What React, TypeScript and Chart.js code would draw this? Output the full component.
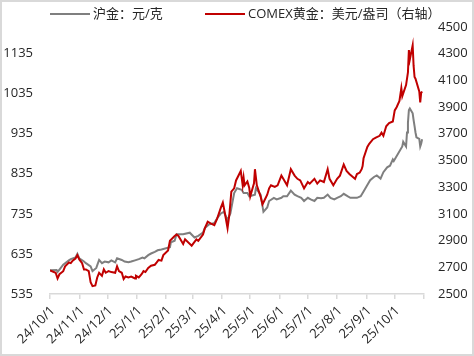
import React, { useEffect, useRef } from 'react';
import { Chart, registerables } from 'chart.js';

Chart.register(...registerables);

// ---- Data ----
const seriesNames = ['沪金：元/克', 'COMEX黄金：美元/盎司（右轴）'];

const shfeDates = [
  '2024-10-01', '2024-10-08', '2024-10-09', '2024-10-11', '2024-10-15', '2024-10-21', '2024-10-23', '2024-10-28', '2024-10-30',
  '2024-11-01', '2024-11-06', '2024-11-08', '2024-11-13', '2024-11-15', '2024-11-19', '2024-11-22', '2024-11-25', '2024-11-28',
  '2024-12-02', '2024-12-05', '2024-12-09', '2024-12-11', '2024-12-16', '2024-12-19', '2024-12-23', '2024-12-26', '2024-12-30',
  '2025-01-03', '2025-01-07', '2025-01-09', '2025-01-13', '2025-01-16', '2025-01-20', '2025-01-23', '2025-01-27',
  '2025-02-05', '2025-02-06', '2025-02-10', '2025-02-12', '2025-02-19', '2025-02-26',
  '2025-03-03', '2025-03-07', '2025-03-12', '2025-03-14', '2025-03-18', '2025-03-24', '2025-03-27', '2025-03-31',
  '2025-04-03', '2025-04-07', '2025-04-10', '2025-04-14', '2025-04-17', '2025-04-22', '2025-04-24', '2025-04-28', '2025-04-30',
  '2025-05-06', '2025-05-07', '2025-05-12', '2025-05-15', '2025-05-19', '2025-05-21', '2025-05-26', '2025-05-29',
  '2025-06-03', '2025-06-05', '2025-06-09', '2025-06-13', '2025-06-17', '2025-06-20', '2025-06-24', '2025-06-27',
  '2025-07-01', '2025-07-04', '2025-07-08', '2025-07-11', '2025-07-15', '2025-07-18', '2025-07-22', '2025-07-25', '2025-07-29',
  '2025-08-01', '2025-08-05', '2025-08-08', '2025-08-12', '2025-08-15', '2025-08-19', '2025-08-22', '2025-08-26', '2025-08-29',
  '2025-09-02', '2025-09-05', '2025-09-09', '2025-09-12', '2025-09-16', '2025-09-19', '2025-09-23', '2025-09-26', '2025-09-29', '2025-09-30',
  '2025-10-09', '2025-10-10', '2025-10-13', '2025-10-14', '2025-10-15', '2025-10-16', '2025-10-17', '2025-10-20', '2025-10-21',
  '2025-10-22', '2025-10-23', '2025-10-24', '2025-10-27', '2025-10-28', '2025-10-29', '2025-10-30',
];
const shfeValues = [
  594, 595, 590, 596, 608, 619, 622, 626, 635,
  624, 616, 612, 604, 592, 600, 620, 612, 616,
  614, 619, 614, 624, 620, 616, 614, 616, 619,
  622, 626, 624, 632, 636, 640, 644, 646,
  652, 664, 668, 684, 684, 688,
  676, 680, 688, 700, 708, 712, 724, 736,
  740, 720, 736, 787, 799, 795, 787, 787, 779,
  783, 799, 783, 740, 751, 767, 775, 771,
  775, 779, 779, 793, 783, 779, 775, 767,
  775, 771, 767, 775, 774, 775, 783, 775, 771,
  775, 779, 785, 779, 775, 775, 775, 779, 791,
  807, 819, 827, 831, 823, 839, 851, 855, 871, 867,
  903, 915, 903, 938, 962, 994, 998, 986, 969,
  954, 938, 926, 922, 903, 910, 921,
];

const comexDates = [
  '2024-10-01', '2024-10-07', '2024-10-09', '2024-10-11', '2024-10-15', '2024-10-17', '2024-10-21', '2024-10-23', '2024-10-25', '2024-10-28', '2024-10-30',
  '2024-11-01', '2024-11-04', '2024-11-06', '2024-11-08', '2024-11-11', '2024-11-13', '2024-11-15', '2024-11-18', '2024-11-20', '2024-11-22', '2024-11-25', '2024-11-27', '2024-11-29',
  '2024-12-02', '2024-12-05', '2024-12-09', '2024-12-11', '2024-12-13', '2024-12-16', '2024-12-18', '2024-12-20', '2024-12-23', '2024-12-26', '2024-12-30', '2024-12-31',
  '2025-01-03', '2025-01-06', '2025-01-08', '2025-01-10', '2025-01-13', '2025-01-16', '2025-01-20', '2025-01-22', '2025-01-24', '2025-01-27', '2025-01-29',
  '2025-02-03', '2025-02-05', '2025-02-10', '2025-02-12', '2025-02-14', '2025-02-19', '2025-02-21', '2025-02-28',
  '2025-03-05', '2025-03-07', '2025-03-12', '2025-03-14', '2025-03-17', '2025-03-20', '2025-03-24', '2025-03-27', '2025-03-31',
  '2025-04-02', '2025-04-04', '2025-04-07', '2025-04-09', '2025-04-11', '2025-04-14', '2025-04-16', '2025-04-21', '2025-04-23', '2025-04-24', '2025-04-25', '2025-04-28', '2025-04-30',
  '2025-05-01', '2025-05-05', '2025-05-06', '2025-05-08', '2025-05-12', '2025-05-14', '2025-05-16', '2025-05-19', '2025-05-21', '2025-05-23', '2025-05-27', '2025-05-30',
  '2025-06-03', '2025-06-05', '2025-06-09', '2025-06-13', '2025-06-17', '2025-06-20', '2025-06-23', '2025-06-27',
  '2025-07-01', '2025-07-03', '2025-07-08', '2025-07-11', '2025-07-14', '2025-07-18', '2025-07-22', '2025-07-24', '2025-07-28',
  '2025-08-01', '2025-08-04', '2025-08-08', '2025-08-11', '2025-08-14', '2025-08-18', '2025-08-20', '2025-08-22', '2025-08-25', '2025-08-27', '2025-08-28', '2025-08-29',
  '2025-09-02', '2025-09-04', '2025-09-08', '2025-09-11', '2025-09-15', '2025-09-17', '2025-09-19', '2025-09-22', '2025-09-25', '2025-09-29',
  '2025-10-01', '2025-10-03', '2025-10-06', '2025-10-08', '2025-10-09', '2025-10-13', '2025-10-15', '2025-10-16', '2025-10-17', '2025-10-20',
  '2025-10-21', '2025-10-22', '2025-10-23', '2025-10-27', '2025-10-28', '2025-10-29', '2025-10-30',
];
const comexValues = [
  2676, 2659, 2616, 2648, 2671, 2707, 2736, 2731, 2750, 2766, 2791,
  2759, 2731, 2684, 2684, 2671, 2588, 2559, 2564, 2624, 2659, 2636, 2684, 2659,
  2671, 2664, 2659, 2707, 2671, 2659, 2612, 2631, 2624, 2631, 2616, 2636,
  2624, 2648, 2671, 2664, 2695, 2712, 2719, 2736, 2755, 2750, 2791,
  2826, 2898, 2934, 2945, 2934, 2874, 2909, 2862,
  2909, 2898, 2945, 2993, 3041, 3029, 3016, 3064, 3148,
  3184, 3112, 2993, 3100, 3266, 3291, 3350, 3421, 3314, 3371, 3314, 3343, 3293,
  3231, 3329, 3434, 3314, 3229, 3171, 3200, 3243, 3291, 3314, 3302, 3314,
  3386, 3362, 3314, 3434, 3386, 3362, 3350, 3291,
  3338, 3326, 3362, 3326, 3350, 3338, 3434, 3362, 3314,
  3362, 3386, 3469, 3421, 3398, 3374, 3362, 3398, 3409, 3434, 3457, 3516,
  3600, 3624, 3659, 3671, 3684, 3707, 3684, 3755, 3779, 3791,
  3874, 3898, 3945, 4041, 3981, 4064, 4159, 4326, 4255, 4362,
  4207, 4124, 4112, 4016, 3934, 4005, 4016,
];

const leftTicks = [535, 635, 735, 835, 935, 1035, 1135];
const rightTicks = [2500, 2700, 2900, 3100, 3300, 3500, 3700, 3900, 4100, 4300, 4500];
const monthTickDates = [
  '2024-10-01', '2024-11-01', '2024-12-01', '2025-01-01', '2025-02-01', '2025-03-01', '2025-04-01',
  '2025-05-01', '2025-06-01', '2025-07-01', '2025-08-01', '2025-09-01', '2025-10-01', '2025-11-01',
];
const monthTickLabels = [
  '24/10/1', '24/11/1', '24/12/1', '25/1/1', '25/2/1', '25/3/1', '25/4/1',
  '25/5/1', '25/6/1', '25/7/1', '25/8/1', '25/9/1', '25/10/1', '',
];

// ---- Helpers ----
const START = Date.UTC(2024, 9, 1);
const dayIndex = (s: string) => {
  const [y, m, d] = s.split('-').map(Number);
  return Math.round((Date.UTC(y, m - 1, d) - START) / 86400000);
};

const GRAY = '#7f7f7f';
const RED = '#c00000';
const TEXT = '#262626';
const AXIS = '#d9d9d9';
const FONT_FAMILY = '"Open Sans", "Noto Sans CJK SC", sans-serif';

const legendPlugin = {
  id: 'topLegend',
  afterDraw(chart: any) {
    const ctx = chart.ctx;
    const y = 12;
    const starts = [48, 203];
    ctx.save();
    ctx.font = `13px ${FONT_FAMILY}`;
    ctx.textBaseline = 'middle';
    ctx.textAlign = 'left';
    chart.data.datasets.forEach((ds: any) => {
      const x = starts[ds.legendIndex];
      ctx.strokeStyle = ds.borderColor;
      ctx.lineWidth = 2;
      ctx.beginPath();
      ctx.moveTo(x, y);
      ctx.lineTo(x + 40, y);
      ctx.stroke();
      ctx.fillStyle = TEXT;
      ctx.fillText(ds.label, x + 43, y);
    });
    ctx.restore();
  },
};

export default function App() {
  const ref = useRef<HTMLCanvasElement | null>(null);

  useEffect(() => {
    if (!ref.current) return;
    const monthDays = monthTickDates.map(dayIndex);
    const labelMap: Record<number, string> = {};
    monthDays.forEach((d, i) => (labelMap[d] = monthTickLabels[i]));

    const chart = new Chart(ref.current, {
      type: 'line',
      data: {
        datasets: [
          {
            label: seriesNames[1],
            legendIndex: 1,
            data: comexDates.map((d, i) => ({ x: dayIndex(d), y: comexValues[i] })),
            borderColor: RED,
            backgroundColor: RED,
            borderWidth: 2,
            pointRadius: 0,
            tension: 0,
            yAxisID: 'y1',
            order: 0,
          } as any,
          {
            label: seriesNames[0],
            legendIndex: 0,
            data: shfeDates.map((d, i) => ({ x: dayIndex(d), y: shfeValues[i] })),
            borderColor: GRAY,
            backgroundColor: GRAY,
            borderWidth: 2,
            pointRadius: 0,
            tension: 0,
            yAxisID: 'y',
            order: 1,
          } as any,
        ],
      },
      options: {
        responsive: false,
        animation: false,
        devicePixelRatio: 1,
        layout: { padding: { top: 12, left: 0, right: 0, bottom: 0 } },
        plugins: {
          legend: { display: false },
          tooltip: { enabled: false },
        },
        scales: {
          x: {
            type: 'linear',
            position: 'bottom',
            min: 0,
            max: dayIndex('2025-11-01'),
            grid: {
              drawOnChartArea: false,
              drawTicks: true,
              tickLength: 5,
              color: AXIS,
              lineWidth: 1.5,
            },
            border: { display: true, color: AXIS, width: 1.5 },
            ticks: {
              autoSkip: false,
              maxRotation: 45,
              minRotation: 45,
              padding: 4,
              labelOffset: 3,
              color: TEXT,
              font: { family: FONT_FAMILY, size: 13 },
              callback: (v: any) => labelMap[Math.round(Number(v))] ?? '',
            },
            afterBuildTicks: (s: any) => {
              s.ticks = monthDays.map((v) => ({ value: v }));
            },
            afterFit: (s: any) => {
              s.height = 60;
            },
          },
          y: {
            type: 'linear',
            position: 'left',
            min: 535,
            max: 535 + (280 * 600) / 252,
            grid: { display: false, drawTicks: false },
            border: { display: false },
            ticks: {
              padding: 17,
              color: TEXT,
              font: { family: FONT_FAMILY, size: 13 },
              callback: (v: any) => String(v),
            },
            afterBuildTicks: (s: any) => {
              s.ticks = leftTicks.map((v) => ({ value: v }));
            },
            afterFit: (s: any) => {
              s.width = 48;
            },
          },
          y1: {
            type: 'linear',
            position: 'right',
            min: 2500,
            max: 4500,
            grid: { display: false, drawTicks: false },
            border: { display: false },
            ticks: {
              padding: 14,
              color: TEXT,
              font: { family: FONT_FAMILY, size: 13 },
              callback: (v: any) => String(v),
            },
            afterBuildTicks: (s: any) => {
              s.ticks = rightTicks.map((v) => ({ value: v }));
            },
            afterFit: (s: any) => {
              s.width = 48;
            },
          },
        },
      } as any,
      plugins: [legendPlugin],
    });
    return () => chart.destroy();
  }, []);

  return (
    <div
      style={{
        position: 'absolute',
        left: 0,
        top: 0,
        width: 474,
        height: 356,
        boxSizing: 'border-box',
        border: '2px solid #d9d9d9',
        background: '#ffffff',
      }}
    >
      <canvas ref={ref} width={470} height={352} style={{ display: 'block', width: 470, height: 352 }} />
    </div>
  );
}
